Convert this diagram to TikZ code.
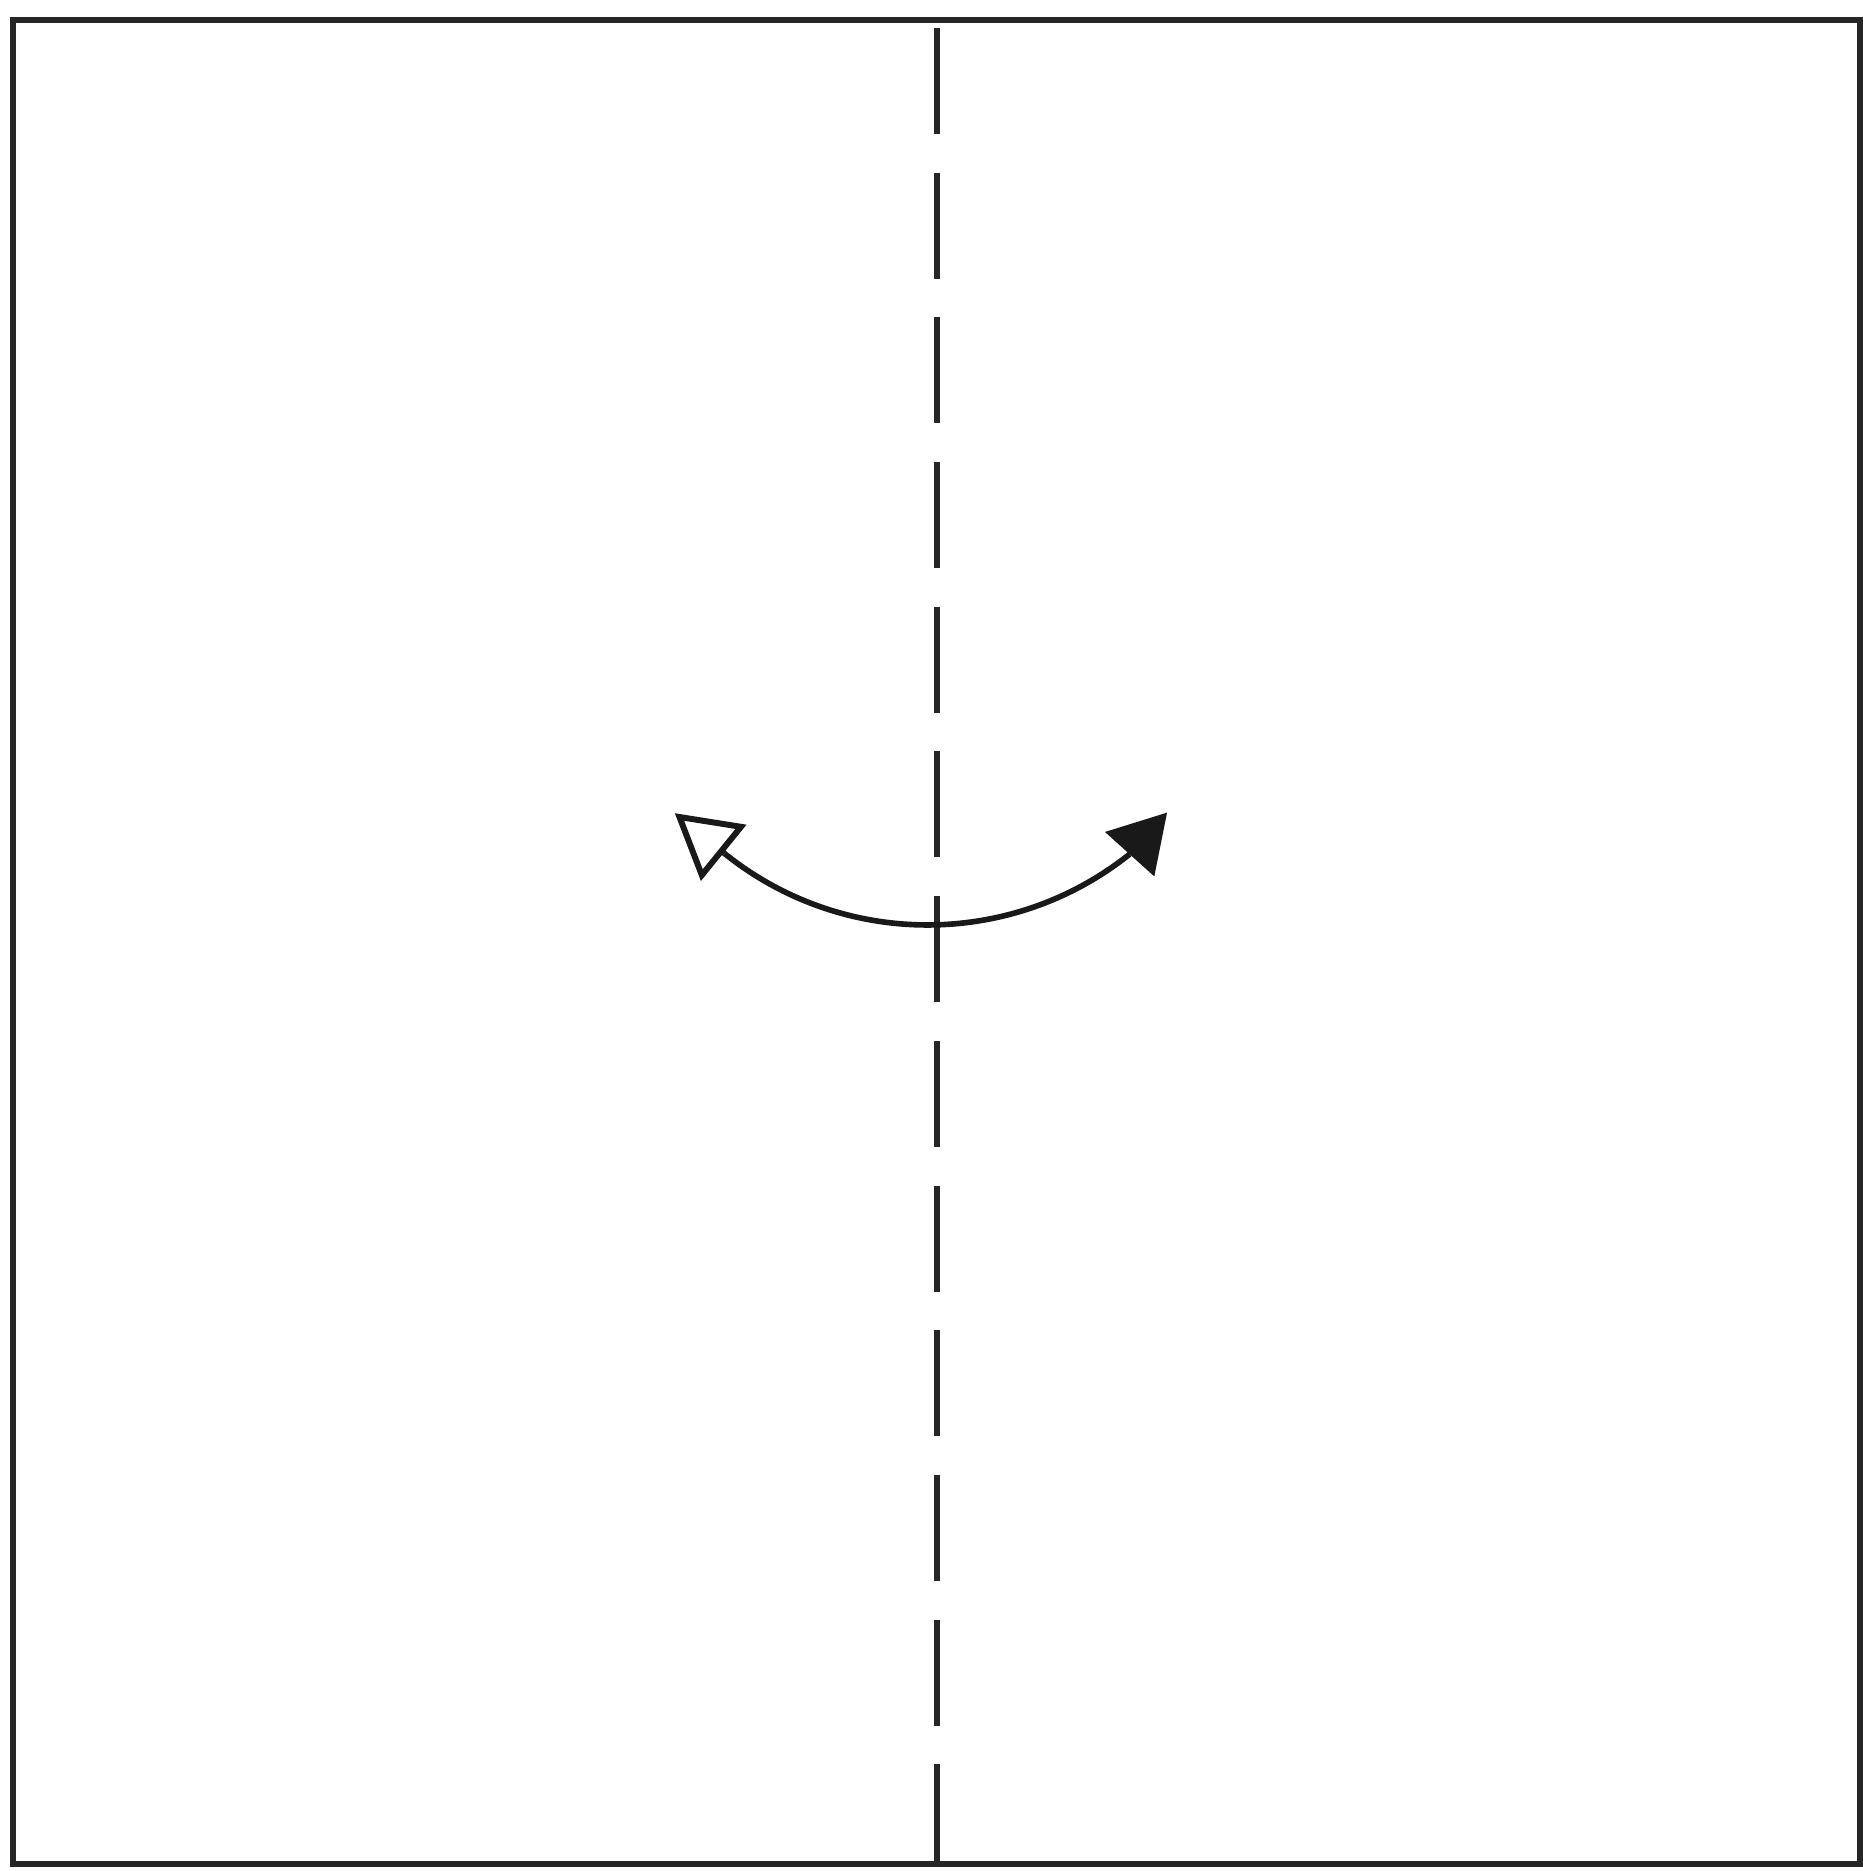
\documentclass[tikz,border=0pt]{standalone}
\usepackage{tikz}
\usetikzlibrary{arrows.meta}

\begin{document}
\begin{tikzpicture}[
    paper/.style={draw=black!85, line width=1.9pt},
    valley/.style={draw=black!85, line width=1.7pt, dash pattern=on 10.6mm off 3.87mm},
    shaft/.style={draw=black!90, line width=1.6pt},
    openhead/.style={draw=black!90, line width=1.7pt, -{Triangle[open, length=6.3mm, width=7.1mm]}},
    fullhead/.style={draw=black!90, line width=1.6pt, -{Triangle[length=5.6mm, width=6.5mm]}},
]
    \useasboundingbox (0,0) rectangle (18.63,18.71);

    % Square
    \coordinate (sw) at (0.13,0.07);
    \coordinate (ne) at (18.60,18.51);
    \draw[paper] (sw) rectangle (ne);

    % Valley fold
    \coordinate (foldtop) at (9.37,18.43);
    \coordinate (foldbot) at (9.37,0.07);
    \draw[valley] (foldtop) -- (foldbot);

    % Fold and unfold
    \coordinate (pivot) at (9.275,12.70);
    \coordinate (lbase) at ([shift={(231.2:3.24)}]pivot);
    \coordinate (rbase) at ([shift={(308.6:3.24)}]pivot);
    \coordinate (ltip) at ([shift={(141:0.64)}]lbase);
    \coordinate (rtip) at ([shift={(48:0.56)}]rbase);
    \draw[shaft] (lbase) arc[start angle=231.2, end angle=308.6, radius=3.24];
    \draw[openhead] (lbase) -- (ltip);
    \draw[fullhead] (rbase) -- (rtip);
\end{tikzpicture}
\end{document}
